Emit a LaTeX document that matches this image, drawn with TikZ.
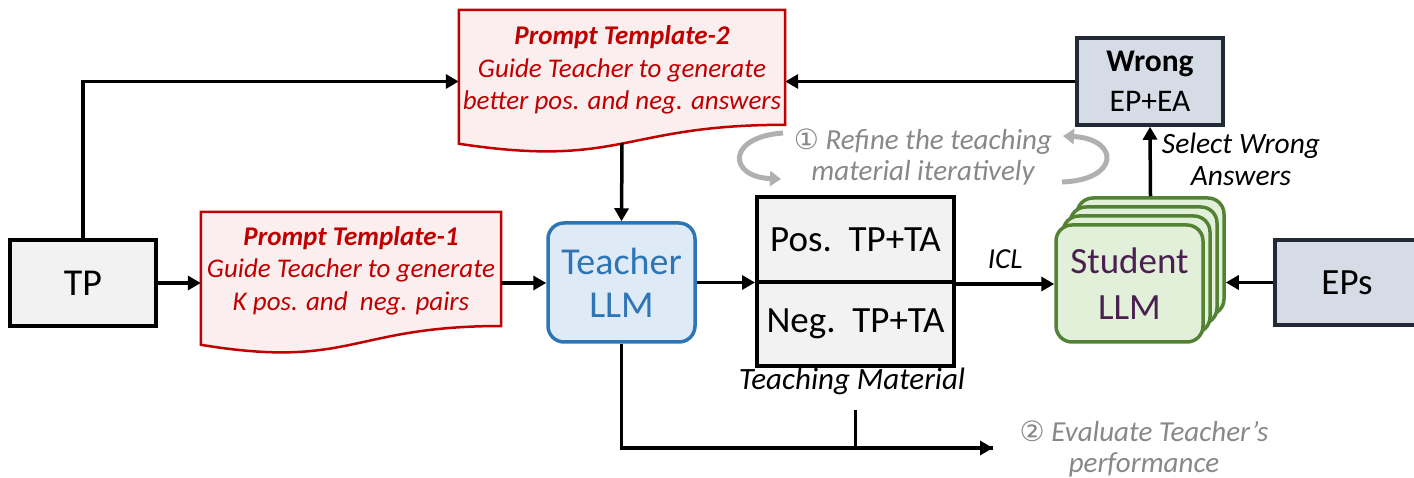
\documentclass[tikz,border=0pt]{standalone}
\usepackage{fontspec}
\setmainfont{Carlito}
\newfontfamily\circfont{DejaVu Sans}
\usetikzlibrary{arrows.meta,calc}

\definecolor{docred}{HTML}{C00000}
\definecolor{docfill}{HTML}{FAEEEE}
\definecolor{boxgray}{HTML}{F2F2F2}
\definecolor{teachfill}{HTML}{DEEBF7}
\definecolor{teachblue}{HTML}{2E75B6}
\definecolor{slatefill}{HTML}{D6DCE5}
\definecolor{slateline}{HTML}{222A35}
\definecolor{studfill}{HTML}{E2F0D9}
\definecolor{studline}{HTML}{548235}
\definecolor{studtext}{HTML}{4A2050}
\definecolor{notegray}{HTML}{888888}
\definecolor{loopgray}{HTML}{B0B0B0}

% outline of a flowchart "document" shape fitted to a node's rectangle
\newcommand\docpath[1]{(#1.north west) -- (#1.north east)
  -- ($(#1.north east)!0.802!(#1.south east)$)
  .. controls ($(#1.north)!0.802!(#1.south)$) and ($(#1.north)!1.1075!(#1.south)$)
  .. ($(#1.north west)!0.934!(#1.south west)$) -- cycle}

\tikzset{
  conn/.style={line width=3.5pt, -{Triangle[length=13pt,width=14pt]}},
  wire/.style={line width=3.5pt},
  loop/.style={line width=5pt, loopgray, -{Triangle[length=11pt,width=15pt]}},
  graybox/.style={draw=black, line width=4pt, fill=boxgray, inner sep=0pt,
    font=\fontsize{37}{44}\selectfont},
  slatebox/.style={draw=slateline, line width=3.5pt, fill=slatefill, inner sep=0pt},
  docshape/.style={inner sep=0pt, minimum width=#1},
  docline/.style={draw=docred, line width=2.5pt, fill=docfill},
  doctext/.style={text=docred, align=center, font=\fontsize{27}{32.5}\selectfont\itshape},
  teachbox/.style={draw=teachblue, line width=3.5pt, fill=teachfill, rounded corners=16pt,
    text=teachblue, align=center, inner sep=0pt, minimum width=147pt, minimum height=119pt,
    font=\fontsize{38}{43}\selectfont},
  studcard/.style={draw=studline, line width=3.5pt, fill=studfill, rounded corners=16pt,
    inner sep=0pt, minimum width=147pt, minimum height=117pt},
  note/.style={align=center, font=\fontsize{29}{32}\selectfont\itshape},
  graynote/.style={note, text=notegray, font=\fontsize{29}{31}\selectfont\itshape},
}
\newcommand\circnum[1]{{\circfont\fontsize{28}{31}\selectfont\char"#1}}

\begin{document}
\begin{tikzpicture}[x=1pt, y=-1pt]
\useasboundingbox (0,0) rectangle (1414,478);

% input problem
\node[graybox, minimum width=146pt, minimum height=86pt, font=\fontsize{38}{44}\selectfont]
  (tp) at (83,283) {TP};

% prompt template 1
\node[docshape=300pt, minimum height=142pt] (pt1) at (351,283) {};
\draw[docline] \docpath{pt1};
\node[doctext] (pt1txt) at ([yshift=12.5pt]pt1.center)
  {\textbf{Prompt Template-1}\\Guide Teacher to generate\\K pos. and\ \ neg. pairs};

% prompt template 2
\node[docshape=326pt, minimum height=143pt] (pt2) at (622,81.5) {};
\draw[docline] \docpath{pt2};
\node[doctext] (pt2txt) at ([yshift=11.5pt]pt2.center)
  {\textbf{Prompt Template-2}\\Guide Teacher to generate\\better pos. and neg. answers};

% teacher model
\node[teachbox] (teacher) at (621.5,282.5) {Teacher\\LLM};

% teaching material
\node[graybox, minimum width=197pt, minimum height=85pt] (pos) at (855.5,239.5) {Pos.\ \ TP+TA};
\node[graybox, minimum width=197pt, minimum height=84pt] (neg) at (855.5,324) {Neg.\ \ TP+TA};
\node[note, font=\fontsize{31}{34}\selectfont\itshape] (tmlabel) at (852,381) {Teaching Material};

% wrong answers
\node[slatebox, minimum width=146pt, minimum height=87pt, align=center,
      font=\fontsize{31.5}{40}\selectfont] (wrong) at (1150,81.5) {\textbf{Wrong}\\EP+EA};

% student models (stack of cards)
\node[studcard] (s3) at (1150.5,256.5) {};
\node[studcard] (s2) at (1143.5,265.5) {};
\node[studcard] (s1) at (1136.5,274.5) {};
\node[studcard, text=studtext, align=center, font=\fontsize{37}{46}\selectfont]
  (student) at (1129.5,283.5) {Student\\LLM};

% evaluation problems
\node[slatebox, minimum width=144pt, minimum height=85pt,
      font=\fontsize{37}{43}\selectfont] (eps) at (1347,282.5) {EPs};

% connectors
\draw[conn] (tp.north) |- (pt2.west);
\draw[conn] (tp.east) -- (pt1.west);
\draw[conn] (pt1.east) -- (pt1.east -| teacher.west);
\draw[conn] ([yshift=10pt]pt2.south) -- (teacher.north);
\draw[conn] (wrong.west) -- (pt2.east);
\draw[conn] (teacher.east) -- (teacher.east -| pos.west);
\draw[conn] (pos.south east) -- (pos.south east -| student.west)
  node[note, midway, above=10pt] (icl) {ICL};
\draw[conn] (s3.north) -- (wrong.south);
\node[note, font=\fontsize{29.5}{32}\selectfont\itshape] (selwrong) at (1241,159)
  {Select Wrong\\Answers};
\draw[conn] (eps.west) -- (eps.west -| s3.east);

% evaluation branch
\coordinate (evalend) at (993,448);
\draw[wire] (teacher.south) |- (evalend);
\draw[conn] (teacher.south |- evalend) -- (evalend);
\draw[wire] ([yshift=-12pt]tmlabel.south -| pos.south) -- (pos.south |- evalend);
\node[graynote] (evalnote) at (1144,449)
  {\circnum{2461} Evaluate Teacher’s\\performance};

% refinement loop
\node[graynote] (refine) at (923,157.5)
  {\circnum{2460} Refine the teaching\\material iteratively};
\coordinate (la) at (783,133);
\coordinate (lb) at (781,179);
\coordinate (ra) at (1063,136);
\coordinate (rb) at (1062,182);
\draw[loop] (la) .. controls (726,137) and (728,177) .. (lb);
\draw[loop] (rb) .. controls (1120,180) and (1120,139) .. (ra);
\end{tikzpicture}
\end{document}
